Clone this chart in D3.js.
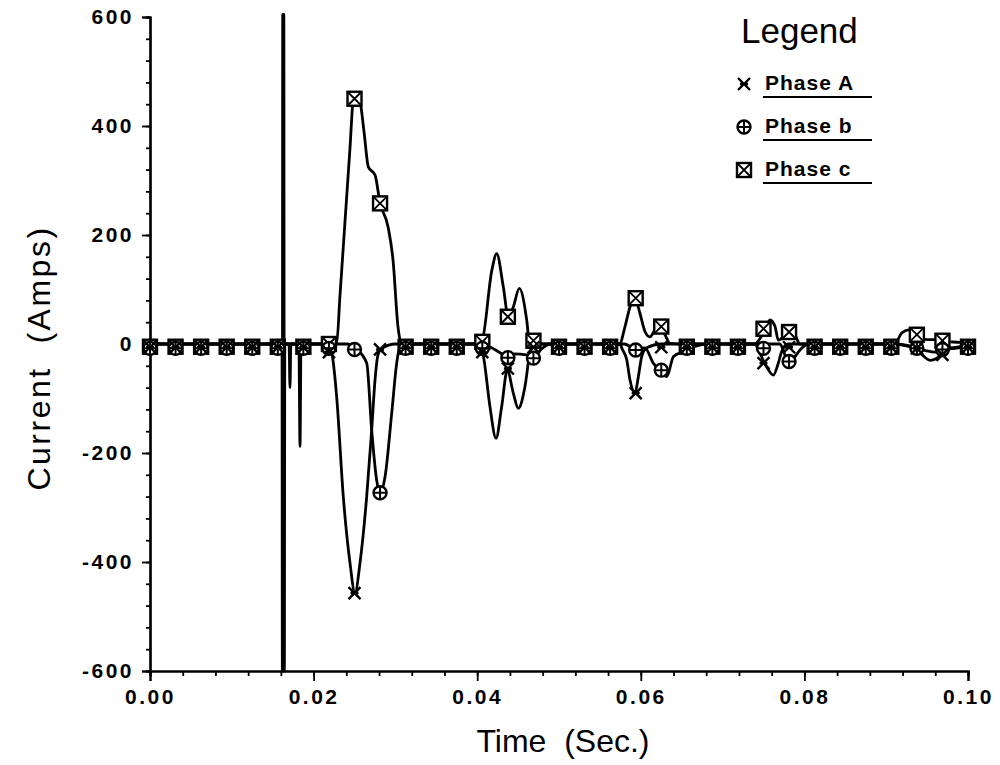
<!DOCTYPE html>
<html>
<head>
<meta charset="utf-8">
<script src="https://cdn.jsdelivr.net/npm/d3@7"></script>
<style>
  body { margin: 0; background: #fff; }
  svg { display: block; }
  text { font-family: "Liberation Sans", Arial, sans-serif; fill: #000; }
</style>
</head>
<body>
<script>
// values, [time (s), current (A)]
var phaseA = [
  [0, 0], [0.0160, 0], [0.01624, 0], [0.01628, 605], [0.01634, -600], [0.01640, 0],
  [0.0215, 0], [0.02221, -16], [0.02282, -97], [0.02363, -280], [0.02445, -402],
  [0.02506, -457], [0.02567, -402], [0.02649, -280], [0.02710, -158], [0.02751, -66],
  [0.02787, -20], [0.02836, -8], [0.0300, 0],
  [0.0400, 0], [0.04055, -8], [0.04083, -29], [0.04156, -115], [0.04230, -173],
  [0.04299, -115], [0.04368, -48], [0.04441, -90], [0.04502, -118], [0.04584, -78],
  [0.04645, -16], [0.0470, 0],
  [0.0575, 0], [0.05766, -7], [0.05828, -29], [0.05868, -66], [0.05929, -90],
  [0.05970, -60], [0.06011, -23], [0.06072, -7], [0.0625, 0],
  [0.0740, 0], [0.07437, -11], [0.07539, -42], [0.07620, -57], [0.07681, -35],
  [0.07722, -14], [0.0780, 0],
  [0.0910, 0], [0.0923, -3], [0.0935, -8], [0.0944, -20], [0.0954, -30],
  [0.0963, -25], [0.0972, -8], [0.0984, -6], [0.1000, -3]
];
var phaseB = [
  [0, 0], [0.0160, 0], [0.01614, 0], [0.01618, -600], [0.01624, 605], [0.01630, 0],
  [0.01700, 0], [0.01711, -80],
  [0.01722, 0], [0.0240, 0], [0.02526, -10], [0.02649, -35], [0.02710, -158],
  [0.02771, -250], [0.02812, -273], [0.02873, -244], [0.02955, -127], [0.03016, -35],
  [0.03056, -5], [0.0320, 0],
  [0.0400, 0], [0.0415, -5], [0.0430, -18], [0.04375, -25], [0.0445, -18],
  [0.0460, -20], [0.04688, -26], [0.0478, -10], [0.0490, 0],
  [0.0580, 0], [0.0594, -11], [0.0605, -7], [0.06152, -35], [0.06235, -48],
  [0.06317, -60], [0.06400, -23], [0.06521, -14], [0.0665, -5], [0.0680, 0],
  [0.0770, 0], [0.07742, -11], [0.07783, -29], [0.07824, -32], [0.07885, -23],
  [0.07946, -11], [0.0805, 0],
  [0.0910, 0], [0.0930, -4], [0.0948, -12], [0.0960, -15], [0.0972, -10],
  [0.0984, -8], [0.1000, -5]
];
var phaseC = [
  [0, 0], [0.0162, 0], [0.01632, 0], [0.01636, 605], [0.01642, -600], [0.01648, 0],
  [0.0182, 0], [0.01834, -188], [0.01846, 0],
  [0.0220, 0], [0.02282, 2], [0.02323, 90], [0.02384, 225], [0.02445, 360],
  [0.02485, 450], [0.02506, 458], [0.02567, 445], [0.02616, 390], [0.02669, 325],
  [0.02751, 310], [0.02812, 259], [0.02910, 215], [0.02971, 154], [0.03032, 31],
  [0.03077, 0],
  [0.0400, 0], [0.04055, 4], [0.04180, 136], [0.04238, 166], [0.04319, 105],
  [0.04380, 50], [0.04441, 68], [0.04515, 102], [0.04605, 44], [0.04645, -5],
  [0.0470, 0],
  [0.0574, 0], [0.05807, 32], [0.05868, 68], [0.05929, 84], [0.05990, 56],
  [0.06051, 23], [0.06112, 13], [0.06174, 26], [0.06235, 32], [0.06296, 17],
  [0.06357, 1], [0.0650, 0],
  [0.0740, 0], [0.07417, 2], [0.07518, 26], [0.07579, 44], [0.07641, 32],
  [0.07681, 7], [0.07742, 13], [0.07824, 22], [0.07885, 16], [0.07946, 0],
  [0.0910, 0], [0.0919, 20], [0.0927, 26], [0.0935, 17], [0.0941, 12],
  [0.0950, 8], [0.0959, 8], [0.0968, 5], [0.0978, 4], [0.0990, 3], [0.1000, 0]
];

// symbol positions along each curve
var markerTimes = [0, 0.003125, 0.00625, 0.009375, 0.0125, 0.015625, 0.01875, 0.021875,
  0.025, 0.028125, 0.03125, 0.034375, 0.0375, 0.040625, 0.04375, 0.046875, 0.05,
  0.053125, 0.05625, 0.059375, 0.0625, 0.065625, 0.06875, 0.071875, 0.075, 0.078125,
  0.08125, 0.084375, 0.0875, 0.090625, 0.09375, 0.096875, 0.1];
var markersA = [-6, -6, -6, -6, -6, -6, -6, -15, -457, -10, -6, -6, -6, -15, -45, -6, -6,
  -6, -6, -90, -6, -6, -6, -6, -35, -6, -6, -6, -6, -6, -8, -20, -6];
var markersB = [-8, -8, -8, -8, -8, -8, -8, -8, -10, -273, -8, -8, -8, -8, -25, -26, -8,
  -8, -8, -11, -48, -8, -8, -8, -8, -32, -8, -8, -8, -8, -8, -10, -8];
var markersC = [-5, -5, -5, -5, -5, -5, -5, 0, 450, 258, -5, -5, -5, 4, 50, 6, -5,
  -5, -5, 84, 32, -5, -5, -5, 28, 22, -5, -5, -5, -5, 17, 6, -5];

var xTicks = [0, 0.02, 0.04, 0.06, 0.08, 0.10];
var yTicks = [-600, -400, -200, 0, 200, 400, 600];
var legendNames = ["Phase A", "Phase b", "Phase c"];

var svg = d3.select("body").append("svg")
    .attr("width", 1000)
    .attr("height", 765);

var x = d3.scaleLinear().domain([0, 0.1]).range([150, 968]);
var y = d3.scaleLinear().domain([-600, 600]).range([671, 17]);

// axes: minor ticks first, then major with labels
svg.append("g")
    .attr("transform", "translate(0,671)")
    .call(d3.axisBottom(x).tickValues(d3.range(0, 0.1001, 0.004)).tickSize(5).tickFormat(""));
svg.append("g")
    .attr("transform", "translate(150,0)")
    .call(d3.axisLeft(y).tickValues(d3.range(-600, 601, 40)).tickSize(4).tickFormat(""));

svg.append("g")
    .attr("transform", "translate(0,671)")
    .call(d3.axisBottom(x).tickValues(xTicks).tickSize(10).tickPadding(8)
      .tickFormat(d3.format(".2f")));
svg.append("g")
    .attr("transform", "translate(150,0)")
    .call(d3.axisLeft(y).tickValues(yTicks).tickSize(8).tickPadding(8)
      .tickFormat(function(d) { return d < 0 ? "-" + Math.abs(d) : d; }));

svg.selectAll(".domain").attr("stroke", "#000").attr("stroke-width", 2.2);
svg.selectAll(".tick line").attr("stroke", "#000").attr("stroke-width", 1.8);
svg.selectAll(".tick text")
    .style("font-size", "21px")
    .style("font-weight", "bold")
    .style("letter-spacing", "2.5px")
    .style("font-family", "Liberation Sans, Arial, sans-serif");

// axis titles
svg.append("text")
    .attr("x", 563).attr("y", 752)
    .attr("text-anchor", "middle")
    .style("font-size", "32px")
    .style("white-space", "pre")
    .text("Time  (Sec.)");
svg.append("text")
    .attr("transform", "translate(50,358) rotate(-90)")
    .attr("text-anchor", "middle")
    .style("font-size", "32px")
    .style("letter-spacing", "2.5px")
    .style("white-space", "pre")
    .text("Current  (Amps)");

// curves
var line = d3.line()
    .x(function(d) { return x(d[0]); })
    .y(function(d) { return y(d[1]); })
    .curve(d3.curveMonotoneX);

[phaseA, phaseB, phaseC].forEach(function(s) {
  svg.append("path")
      .datum(s)
      .attr("d", line)
      .attr("fill", "none")
      .attr("stroke", "#000")
      .attr("stroke-width", 2.8);
});

// marker shapes
function drawStar(g) {
  g.append("path")
      .attr("d", "M-6,-6L6,6M-6,6L6,-6M-4,0L4,0")
      .attr("stroke", "#000").attr("stroke-width", 2.4).attr("fill", "none");
}
function drawCircle(g) {
  g.append("circle").attr("r", 6.5)
      .attr("fill", "#fff").attr("stroke", "#000").attr("stroke-width", 2.4);
  g.append("path").attr("d", "M-6.5,0H6.5M0,-6.5V6.5")
      .attr("stroke", "#000").attr("stroke-width", 2);
}
function drawSquare(g) {
  g.append("rect").attr("x", -7).attr("y", -7).attr("width", 14).attr("height", 14)
      .attr("fill", "#fff").attr("stroke", "#000").attr("stroke-width", 2.4);
  g.append("path").attr("d", "M-7,-7L7,7M7,-7L-7,7")
      .attr("stroke", "#000").attr("stroke-width", 1.8);
}

function addMarkers(vals, draw) {
  svg.append("g").selectAll("g")
    .data(vals)
    .enter().append("g")
      .attr("transform", function(d, i) {
        return "translate(" + x(markerTimes[i]) + "," + y(d) + ")";
      })
      .each(function() { draw(d3.select(this)); });
}
addMarkers(markersC, drawSquare);
addMarkers(markersB, drawCircle);
addMarkers(markersA, drawStar);

// legend
svg.append("text")
    .attr("x", 741).attr("y", 43)
    .style("font-size", "35px")
    .text("Legend");

var drawers = [drawStar, drawCircle, drawSquare];
var leg = svg.selectAll(".leg")
    .data(legendNames)
    .enter().append("g")
      .attr("class", "leg")
      .attr("transform", function(d, i) { return "translate(0," + (90 + i * 43) + ")"; });
leg.each(function(d, i) {
  var g = d3.select(this);
  drawers[i](g.append("g").attr("transform", "translate(744,-6)"));
});
leg.append("text")
    .attr("x", 765).attr("y", 0)
    .style("font-size", "21px")
    .style("font-weight", "bold")
    .style("letter-spacing", "1px")
    .text(function(d) { return d; });
leg.append("line")
    .attr("x1", 763).attr("x2", 872)
    .attr("y1", 7).attr("y2", 7)
    .attr("stroke", "#000").attr("stroke-width", 2);
</script>
</body>
</html>
